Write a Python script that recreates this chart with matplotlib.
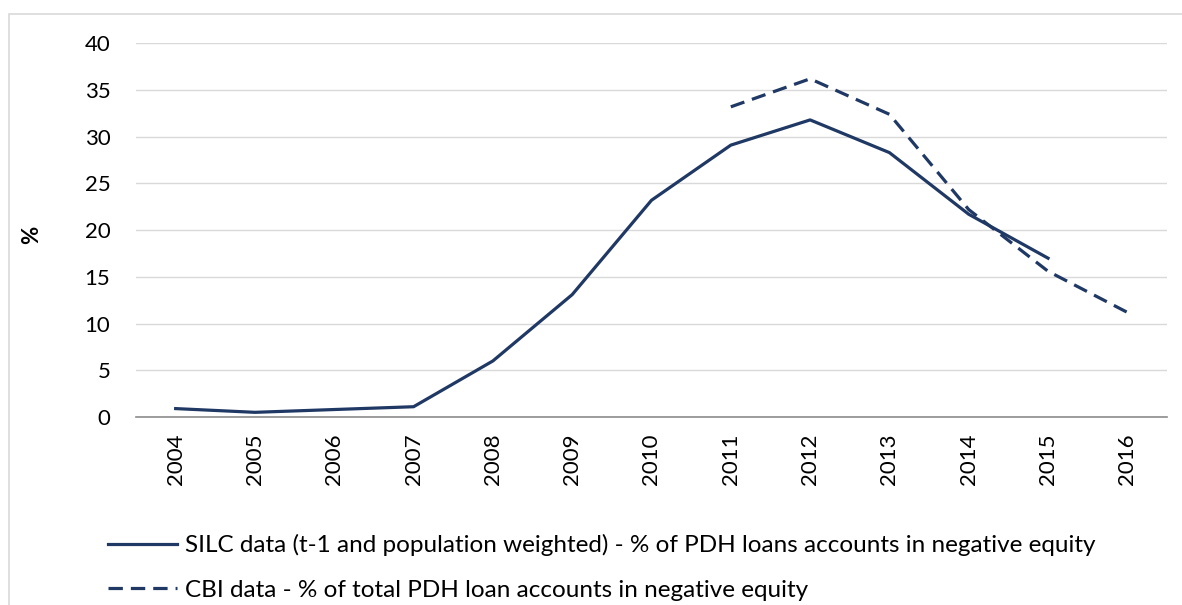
import matplotlib
matplotlib.use("Agg")
import matplotlib.pyplot as plt
from matplotlib.patches import Rectangle

years = ["2004", "2005", "2006", "2007", "2008", "2009", "2010", "2011", "2012", "2013", "2014", "2015", "2016"]
silc = [0.9, 0.5, 0.8, 1.1, 6.0, 13.1, 23.2, 29.1, 31.8, 28.3, 21.7, 17.0]
cbi_years = ["2011", "2012", "2013", "2014", "2015", "2016"]
cbi = [33.2, 36.2, 32.4, 22.2, 15.6, 11.2]
silc_label = "SILC data (t-1 and population weighted) - % of PDH loans accounts in negative equity"
cbi_label = "CBI data - % of total PDH loan accounts in negative equity"

plt.rcParams['font.family'] = ['Lato', 'DejaVu Sans']
color = "#1F3864"

W, H = 1182, 605
fig = plt.figure(figsize=(W / 100, H / 100), dpi=100)
ax = fig.add_axes([136 / W, 1 - 417 / H, (1167 - 136) / W, (417 - 43.3) / H])

x_silc = list(range(len(silc)))
x_cbi = [years.index(y) for y in cbi_years]
ax.plot(x_silc, silc, color=color, lw=2.3, label=silc_label)
ax.plot(x_cbi, cbi, color=color, lw=2.3, ls=(0, (4.5, 2.5)), label=cbi_label)

ax.set_xlim(-0.5, len(years) - 0.5)
ax.set_ylim(0, 40)
ax.set_yticks(range(0, 41, 5))
ax.set_xticks(range(len(years)))
ax.set_xticklabels(years, rotation=90, fontsize=16)
ax.tick_params(axis='y', labelsize=16, length=0, pad=18.5)
ax.tick_params(axis='x', length=0, pad=12)
ax.grid(axis='y', color='#d9d9d9', lw=1)
ax.set_axisbelow(True)
for s in ['top', 'right', 'left']:
    ax.spines[s].set_visible(False)
ax.spines['bottom'].set_color('#8c8c8c')
ax.spines['bottom'].set_linewidth(1.2)
ax.set_ylabel('%', fontsize=16, fontweight='bold')
ax.yaxis.set_label_coords((42 - 136) / (1167 - 136), (417 - 235) / (417 - 43.3))

fig.legend(loc='upper left', bbox_to_anchor=(108 / W, 1 - 534 / H), frameon=False,
           fontsize=17.5, handlelength=2.85, handletextpad=0.3, labelspacing=0.98,
           borderpad=0, borderaxespad=0)

fig.patches.append(Rectangle((9 / W, -0.05), 1.2, 1 - 14 / H + 0.05, transform=fig.transFigure,
                             fill=False, edgecolor='#d9d9d9', lw=1.2))

fig.savefig("out.png", dpi=100)
